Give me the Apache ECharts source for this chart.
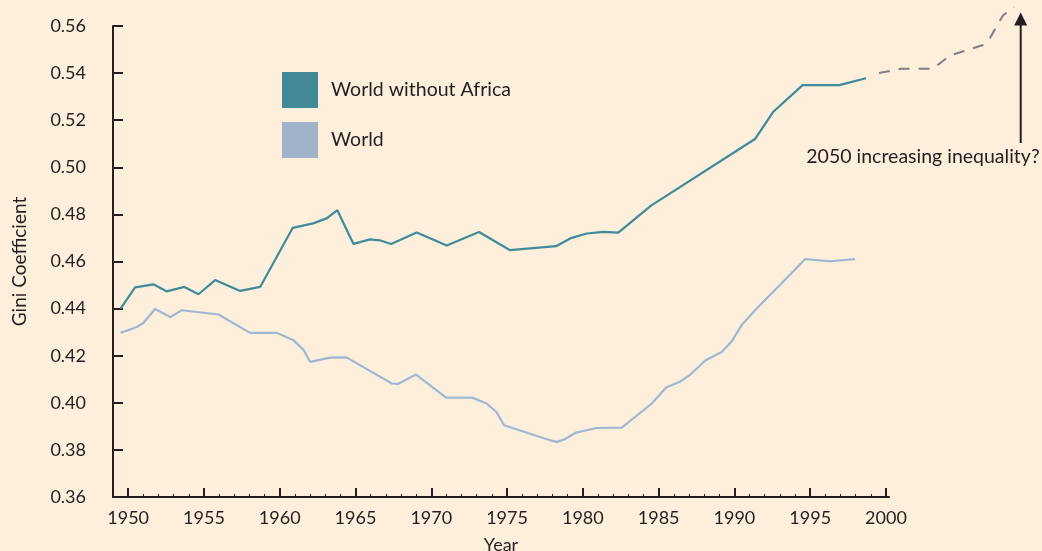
<!DOCTYPE html>
<html><head><meta charset="utf-8">
<script src="https://cdn.jsdelivr.net/npm/echarts@6/dist/echarts.min.js"></script>
<style>html,body{margin:0;padding:0;background:#fdefdc}#c{width:1042px;height:551px}</style>
</head><body><div id="c"></div>
<script>
// ---- data ----
const yearsNoAfrica = [1949.5,1950.46,1951.67,1952.55,1953.71,1954.64,1955.74,1957.39,1958.71,1960.86,1962.2,1963.1,1963.8,1964.86,1965.96,1966.6,1967.35,1969.04,1971.02,1973.15,1975.2,1978.23,1979.16,1980.26,1981.35,1982.34,1984.5,1991.36,1992.57,1994.5,1996.92,1998.68];
const giniNoAfrica  = [0.440,0.449,0.4503,0.4473,0.4492,0.4461,0.4521,0.4475,0.4492,0.4743,0.4762,0.4783,0.4818,0.4675,0.4694,0.469,0.4674,0.4723,0.4668,0.4725,0.4648,0.4665,0.4698,0.4719,0.4726,0.4723,0.4837,0.512,0.5236,0.5349,0.5349,0.5378];
const yearsWorld = [1949.5,1950.57,1951.0,1951.78,1952.77,1953.54,1955.96,1958.05,1959.8,1960.9,1961.56,1962.0,1963.32,1964.4,1967.4,1967.8,1969.0,1970.98,1972.7,1973.65,1974.3,1974.8,1978.0,1978.3,1978.8,1979.5,1980.9,1982.57,1984.55,1985.5,1986.4,1987.1,1988.1,1989.16,1989.8,1990.48,1991.47,1993.0,1994.66,1996.3,1997.96];
const giniWorld  = [0.4297,0.4322,0.4339,0.4398,0.4364,0.4393,0.4375,0.4297,0.4297,0.4266,0.4226,0.4174,0.4192,0.4193,0.4082,0.408,0.412,0.4022,0.4022,0.3997,0.3961,0.3905,0.3838,0.3834,0.3845,0.3872,0.3893,0.3895,0.3997,0.4065,0.4089,0.412,0.4181,0.4216,0.4259,0.433,0.44,0.450,0.461,0.4601,0.461];
const yearsProjection = [1999.54,2000.99,2003.10,2004.22,2006.40,2006.86,2007.72,2008.44];
const giniProjection  = [0.5400,0.54186,0.54186,0.54747,0.55193,0.5549,0.56446,0.56807];
const xTickLabels = [1950,1955,1960,1965,1970,1975,1980,1985,1990,1995,2000];
const minorYears = [];
for (let y = 1950; y <= 2000; y++) minorYears.push(y);
const seriesNames = ['World without Africa','World'];
const arrowYear = 2008.89, arrowFrom = 0.5103, arrowTo = 0.5630;
const noteText = '2050 increasing inequality?';
const notePos = [2002.44, 0.50434];

const pairs = (xs, ys) => xs.map((x, i) => [x, ys[i]]);
const FONT = 'Lato';
const INK = '#231f20';
const BG = '#fdefdc';

// main plot extent and an overlay extent (same scale) that reaches the page edge
const X_MIN = 1949, X_MAX = 2000.2, Y_MIN = 0.36, Y_MAX = 0.56;
const pxPerYear = (1042 - 113 - 153) / (X_MAX - X_MIN);
const pxPerUnit = (551 - 26 - 54) / (Y_MAX - Y_MIN);
const X_MAX2 = X_MIN + (1042 - 113) / pxPerYear;
const Y_MAX2 = Y_MIN + (551 - 54) / pxPerUnit;

const chart = echarts.init(document.getElementById('c'));
chart.setOption({
  animation: false,
  backgroundColor: BG,
  textStyle: { fontFamily: FONT },
  grid: [
    { left: 113, right: 153, top: 26, bottom: 54, containLabel: false, outerBoundsMode: 'none' },
    { left: 113, right: 0, top: 0, bottom: 54, containLabel: false, outerBoundsMode: 'none' }
  ],
  legend: {
    data: seriesNames,
    orient: 'vertical', left: 282, top: 72, padding: 0,
    itemWidth: 36, itemHeight: 36, itemGap: 14, icon: 'rect',
    textStyle: { fontSize: 19.5, color: INK, fontFamily: FONT, padding: [0,0,0,8] }
  },
  xAxis: [{
    type: 'value', min: X_MIN, max: X_MAX, position: 'bottom', gridIndex: 0,
    name: 'Year', nameLocation: 'middle', nameGap: 39,
    nameTextStyle: { fontSize: 18, color: INK },
    axisLine: { lineStyle: { color: INK, width: 2 } },
    axisTick: { inside: true, length: 9, customValues: xTickLabels, lineStyle: { color: INK, width: 2 } },
    axisLabel: { customValues: xTickLabels, fontSize: 18, color: INK, margin: 12, formatter: v => String(v) },
    splitLine: { show: false }
  }, {
    type: 'value', min: X_MIN, max: X_MAX, position: 'bottom', gridIndex: 0,
    axisLine: { show: false },
    axisTick: { inside: true, length: 3, customValues: minorYears, lineStyle: { color: INK, width: 1 } },
    axisLabel: { show: false },
    splitLine: { show: false }
  }, {
    type: 'value', min: X_MIN, max: X_MAX2, gridIndex: 1, show: false
  }],
  yAxis: [{
    type: 'value', min: Y_MIN, max: Y_MAX, interval: 0.02, gridIndex: 0,
    name: 'Gini Coefficient', nameLocation: 'middle', nameGap: 84,
    nameTextStyle: { fontSize: 19, color: INK },
    axisLine: { show: true, lineStyle: { color: INK, width: 2 } },
    axisTick: { show: true, inside: true, length: 10, lineStyle: { color: INK, width: 2 } },
    axisLabel: { fontSize: 18, color: INK, margin: 27, formatter: v => v.toFixed(2) },
    splitLine: { show: false }
  }, {
    type: 'value', min: Y_MIN, max: Y_MAX2, gridIndex: 1, show: false
  }],
  series: [{
    name: seriesNames[0], type: 'line', symbol: 'none',
    data: pairs(yearsNoAfrica, giniNoAfrica),
    lineStyle: { color: '#3e8b99', width: 2.2 }, itemStyle: { color: '#428a98' }
  }, {
    name: seriesNames[1], type: 'line', symbol: 'none',
    data: pairs(yearsWorld, giniWorld),
    lineStyle: { color: '#9fb8d2', width: 2.2 }, itemStyle: { color: '#a1b3c8' }
  }, {
    name: 'projection', type: 'line', symbol: 'none', xAxisIndex: 2, yAxisIndex: 1,
    data: pairs(yearsProjection, giniProjection),
    lineStyle: { color: '#808080', width: 2, type: [11, 9] }
  }, {
    name: 'arrow', type: 'line', showSymbol: true, xAxisIndex: 2, yAxisIndex: 1,
    data: [{ value: [arrowYear, arrowFrom], symbol: 'none' },
           { value: [arrowYear, arrowTo], symbol: 'triangle', symbolSize: 13 }],
    lineStyle: { color: INK, width: 2 }, itemStyle: { color: INK }
  }, {
    name: 'note', type: 'scatter', xAxisIndex: 2, yAxisIndex: 1, symbolSize: 1,
    itemStyle: { color: BG, opacity: 1 },
    data: [notePos],
    label: { show: true, position: 'inside', formatter: noteText, fontSize: 19.5, color: INK, opacity: 1,
             fontFamily: FONT, textBorderWidth: 0, textBorderColor: 'transparent' }
  }]
});
</script>
</body></html>
